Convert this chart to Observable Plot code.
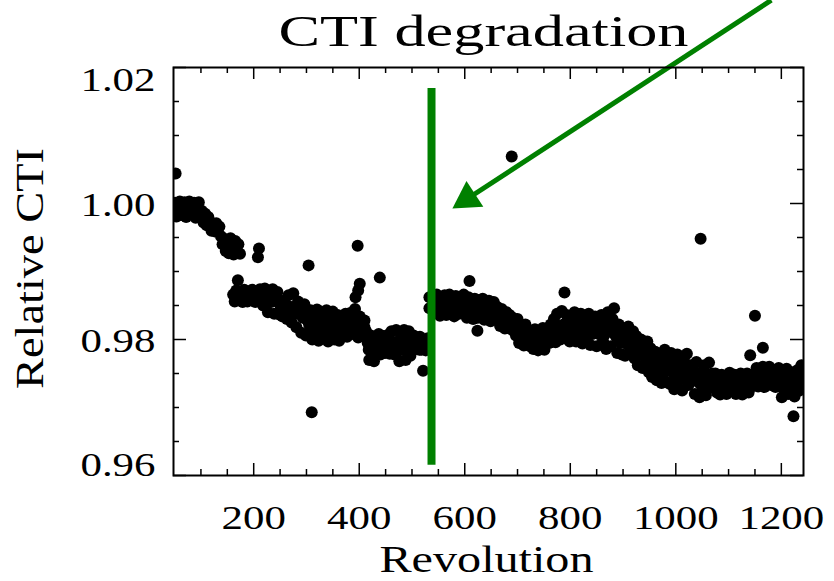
<!DOCTYPE html>
<html>
<head>
<meta charset="utf-8">
<script src="https://cdn.jsdelivr.net/npm/d3@7"></script>
<script src="https://cdn.jsdelivr.net/npm/@observablehq/plot@0.6"></script>
<style>
html, body { margin: 0; padding: 0; background: #fff; }
#chart svg { display: block; overflow: visible; background: #fff; }
</style>
</head>
<body>
<div id="chart"></div>
<script>
// ---- Data: [revolution, relative CTI] ----
const bandPoints = [
  [48,0.9990],[51,1.0001],[54,0.9981],[57,0.9995],[60,1.0003],[63,0.9983],[66,0.9992],[69,1.0002],[72,0.9980],[75,0.9996],[78,1.0003],[81,0.9985],[84,0.9993],[87,1.0001],[90,0.9979],[93,0.9997],[96,1.0002],[99,0.9984],
  [102,0.9989],[105,0.9972],[108,0.9985],[111,0.9968],[114,0.9980],
  [117,0.9973],[120,0.9960],[123,0.9968],[126,0.9959],[129,0.9971],[132,0.9962],[135,0.9966],
  [138,0.9952],[141,0.9940],[144,0.9948],[147,0.9930],[150,0.9944],[153,0.9927],[156,0.9949],[159,0.9936],[162,0.9925],[165,0.9945],[168,0.9930],[171,0.9940],[174,0.9926],
  [161,0.9866],[164,0.9856],[167,0.9872],[173,0.9858],[176,0.9868],[179,0.9855],[182,0.9873],[185,0.9861],[188,0.9856],[191,0.9870],[194,0.9859],[197,0.9873],[200,0.9864],[203,0.9855],[206,0.9871],[209,0.9860],[212,0.9874],
  [215,0.9868],[218,0.9850],[221,0.9875],[224,0.9858],[227,0.9840],[230,0.9870],[233,0.9855],[236,0.9874],[239,0.9838],[242,0.9864],[245,0.9870],[248,0.9837],
  [251,0.9850],[254,0.9834],[257,0.9857],[260,0.9842],[263,0.9830],[266,0.9865],[269,0.9848],[272,0.9825],[275,0.9868],[278,0.9838],[281,0.9818],[284,0.9856],[287,0.9845],[290,0.9810],[293,0.9832],[296,0.9852],[299,0.9806],[302,0.9840],
  [305,0.9822],[308,0.9843],[311,0.9800],[314,0.9833],[317,0.9812],[320,0.9844],[323,0.9798],[326,0.9827],[329,0.9840],[332,0.9805],[335,0.9818],[338,0.9843],[341,0.9797],[344,0.9830],[347,0.9814],[350,0.9841],[353,0.9800],[356,0.9825],[359,0.9836],[362,0.9798],[365,0.9819],[368,0.9830],
  [371,0.9812],[374,0.9838],[377,0.9804],[380,0.9826],[383,0.9839],[386,0.9808],[389,0.9830],[392,0.9845],[395,0.9815],[398,0.9803],[401,0.9834],[404,0.9820],[407,0.9806],[410,0.9828],[413,0.9812],
  [416,0.9795],[419,0.9770],[422,0.9806],[425,0.9783],[428,0.9768],[431,0.9800],[434,0.9788],[437,0.9808],[440,0.9778],[443,0.9795],[446,0.9805],[449,0.9780],[452,0.9792],[455,0.9807],[458,0.9779],[461,0.9812],[464,0.9790],[467,0.9778],[470,0.9814],[473,0.9797],[476,0.9768],[479,0.9808],[482,0.9785],[485,0.9814],[488,0.9770],[491,0.9800],[494,0.9812],[497,0.9776],[500,0.9795],[503,0.9806],[506,0.9786],[509,0.9800],[512,0.9790],[515,0.9804],[518,0.9785],[524,0.9798],[527,0.9790],[530,0.9802],[533,0.9862],[533,0.9846],
  [541,0.9858],[544,0.9840],[547,0.9866],[550,0.9848],[553,0.9835],[556,0.9862],[559,0.9845],[562,0.9865],[565,0.9836],[568,0.9855],[571,0.9866],[574,0.9842],[577,0.9858],[580,0.9834],[583,0.9864],[586,0.9848],[589,0.9838],[592,0.9860],[595,0.9845],[598,0.9866],
  [601,0.9850],[604,0.9832],[607,0.9862],[610,0.9840],[613,0.9855],[616,0.9830],[619,0.9860],[622,0.9845],[625,0.9832],[628,0.9858],
  [631,0.9838],[634,0.9860],[637,0.9829],[640,0.9850],[643,0.9835],[646,0.9857],[649,0.9827],[652,0.9845],[655,0.9855],[658,0.9830],[661,0.9848],
  [664,0.9838],[667,0.9820],[670,0.9845],[673,0.9828],[676,0.9816],[679,0.9840],[682,0.9825],[685,0.9836],[688,0.9815],[691,0.9832],
  [694,0.9825],[697,0.9806],[700,0.9830],[703,0.9795],[706,0.9818],[709,0.9808],[712,0.9791],[715,0.9822],[718,0.9800],[721,0.9814],[724,0.9790],
  [727,0.9808],[730,0.9786],[733,0.9815],[736,0.9797],[739,0.9784],[742,0.9810],[745,0.9792],[748,0.9817],[751,0.9785],[754,0.9803],[757,0.9812],
  [760,0.9795],[763,0.9822],[766,0.9803],[769,0.9830],[772,0.9796],[775,0.9838],[778,0.9812],[781,0.9800],[784,0.9842],[787,0.9822],[790,0.9802],
  [793,0.9836],[796,0.9810],[799,0.9797],[802,0.9830],[805,0.9815],[808,0.9840],[811,0.9797],[814,0.9824],[817,0.9810],[820,0.9838],[823,0.9794],[826,0.9818],[829,0.9830],[832,0.9805],[835,0.9838],[838,0.9792],[841,0.9825],[844,0.9812],[847,0.9834],[850,0.9790],[853,0.9820],[856,0.9829],
  [859,0.9836],[862,0.9798],[865,0.9825],[868,0.9786],[871,0.9840],[874,0.9812],[877,0.9790],[880,0.9830],[886,0.9805],[889,0.9780],[892,0.9822],[895,0.9808],
  [898,0.9778],[901,0.9815],[904,0.9776],[907,0.9805],[910,0.9819],[913,0.9782],[916,0.9800],[919,0.9812],
  [922,0.9772],[925,0.9805],[928,0.9762],[931,0.9792],[934,0.9800],[937,0.9758],[940,0.9785],[943,0.9766],[946,0.9797],
  [949,0.9752],[952,0.9787],[955,0.9745],[958,0.9772],[961,0.9782],[964,0.9740],[967,0.9765],[970,0.9778],[973,0.9736],[976,0.9750],[979,0.9785],[982,0.9738],
  [985,0.9770],[988,0.9735],[991,0.9780],[994,0.9752],[997,0.9727],[1000,0.9765],[1003,0.9778],[1006,0.9740],[1009,0.9760],[1012,0.9725],[1015,0.9772],[1018,0.9748],[1021,0.9779],[1024,0.9733],[1027,0.9762],[1030,0.9745],
  [1033,0.9755],[1036,0.9720],[1039,0.9767],[1042,0.9738],[1045,0.9715],[1048,0.9752],[1051,0.9728],[1054,0.9762],[1057,0.9718],[1060,0.9745],[1063,0.9766],[1066,0.9730],[1069,0.9750],
  [1072,0.9735],[1075,0.9750],[1078,0.9722],[1081,0.9742],[1084,0.9719],[1087,0.9748],[1090,0.9730],[1093,0.9745],[1096,0.9720],[1099,0.9740],[1102,0.9751],[1105,0.9725],[1108,0.9738],[1111,0.9748],[1114,0.9720],[1117,0.9745],[1120,0.9732],[1123,0.9750],[1126,0.9719],[1129,0.9742],[1132,0.9728],[1135,0.9750],[1138,0.9722],[1144,0.9738],[1147,0.9748],
  [1150,0.9742],[1153,0.9758],[1156,0.9731],[1159,0.9750],[1162,0.9738],[1165,0.9760],[1168,0.9730],[1171,0.9752],[1174,0.9742],[1177,0.9760],[1180,0.9733],[1183,0.9748],[1186,0.9755],[1189,0.9730],[1192,0.9745],[1195,0.9758],
  [1198,0.9738],[1201,0.9715],[1204,0.9750],[1207,0.9726],[1210,0.9757],[1213,0.9720],[1216,0.9742],[1219,0.9732],[1222,0.9752],[1225,0.9716],[1228,0.9740],[1231,0.9755],[1234,0.9725],[1237,0.9748],[1240,0.9735]
];
// extra measurements in the middle of the dense band
const bandMidPoints = [
  [302,0.9828],[308,0.9812],[314,0.9822],[320,0.9815],[326,0.9810],[332,0.9828],[338,0.9820],[344,0.9808],[350,0.9825],[356,0.9812],[362,0.9826],[368,0.9815],[374,0.9822],[380,0.9812],[386,0.9825],[392,0.9818],[398,0.9828],[404,0.9810],[410,0.9818],
  [418,0.9785],[424,0.9795],[430,0.9782],[436,0.9797],[442,0.9787],[448,0.9795],[454,0.9790],[460,0.9798],[466,0.9788],[472,0.9782],[478,0.9795],[484,0.9798],[490,0.9786],[496,0.9792],[502,0.9785],[508,0.9793],[514,0.9785],[520,0.9795],[526,0.9784],
  [542,0.9848],[548,0.9855],[554,0.9846],[560,0.9855],[566,0.9847],[572,0.9852],[578,0.9846],[584,0.9854],[590,0.9850],[596,0.9855],
  [602,0.9842],[608,0.9850],[614,0.9843],[620,0.9850],[626,0.9845],[632,0.9848],[638,0.9842],[644,0.9847],[650,0.9838],[656,0.9845],[662,0.9840],
  [668,0.9832],[674,0.9836],[680,0.9828],[686,0.9826],[692,0.9820],
  [698,0.9815],[704,0.9808],[710,0.9815],[716,0.9805],[722,0.9802],[728,0.9797],[734,0.9803],[740,0.9797],[746,0.9803],[752,0.9796],[758,0.9801],
  [764,0.9812],[770,0.9815],[776,0.9818],[782,0.9820],[788,0.9810],[794,0.9820],[800,0.9812],[806,0.9825],[812,0.9810],[818,0.9820],[824,0.9812],[830,0.9820],[836,0.9815],[842,0.9808],[848,0.9818],[854,0.9808],
  [860,0.9815],[866,0.9808],[872,0.9820],[878,0.9812],[884,0.9820],[890,0.9803],[896,0.9795],
  [902,0.9800],[908,0.9793],[914,0.9800],[920,0.9790],[926,0.9785],[932,0.9778],[938,0.9782],[944,0.9780],
  [950,0.9770],[956,0.9760],[962,0.9762],[968,0.9752],[974,0.9765],[980,0.9760],
  [986,0.9755],[992,0.9762],[998,0.9748],[1004,0.9758],[1010,0.9745],[1016,0.9755],[1022,0.9758],[1028,0.9750],
  [1034,0.9740],[1040,0.9748],[1046,0.9735],[1052,0.9745],[1058,0.9735],[1064,0.9748],[1070,0.9738],
  [1076,0.9735],[1082,0.9730],[1088,0.9738],[1094,0.9732],[1100,0.9728],[1106,0.9738],[1112,0.9733],[1118,0.9737],[1124,0.9730],[1130,0.9735],[1136,0.9738],[1142,0.9730],[1148,0.9740],
  [1154,0.9745],[1160,0.9742],[1166,0.9748],[1172,0.9740],[1178,0.9747],[1184,0.9740],[1190,0.9748],[1196,0.9742],
  [1202,0.9730],[1208,0.9742],[1214,0.9735],[1220,0.9742],[1226,0.9730],[1232,0.9738],[1238,0.9732]
];
const outlierPoints = [
  [52,1.0044],[170,0.9887],[208,0.9921],[210,0.9934],[304,0.9909],[310,0.9693],[393,0.9862],[397,0.9938],[398,0.9872],[401,0.9882],
  [439,0.9891],[521,0.9754],[609,0.9886],[624,0.9813],[689,1.0069],[789,0.9869],[883,0.9846],[1047,0.9948],[1141,0.9777],
  [1150,0.9835],[1165,0.9788],[1223,0.9687],[1238,0.9762]
];

// ---- Annotation (green marker line and arrow) ----
const markerRevolution = [537];
const markerRange = [0.9615, 1.0169];
const arrowStart = [1181, 1.0299];
const arrowHead = [605, 1.0007];
const arrowHeadAngle = 237;

// ---- Axes ----
const xDomain = [48, 1242];
const yDomain = [0.96, 1.02];
const xTicks = [200, 400, 600, 800, 1000, 1200];
const xTickLabels = ["200", "400", "600", "800", "1000", "1200"];
const xMinorTicks = [100, 150, 250, 300, 350, 450, 500, 550, 650, 700, 750, 850, 900, 950, 1050, 1100, 1150];
const yTicks = [0.96, 0.98, 1.00, 1.02];
const yTickLabels = ["0.96", "0.98", "1.00", "1.02"];
const yMinorTicks = [0.965, 0.97, 0.975, 0.985, 0.99, 0.995, 1.005, 1.01, 1.015];
const titleText = "CTI degradation";
const xLabel = "Revolution";
const yLabel = "Relative CTI";

// ---- Layout ----
const W = 834, H = 581;
const mL = 173, mR = 31, mT = 67, mB = 106;
const fw = W - mL - mR, fh = H - mT - mB;
const green = "#008000";
const font = "Liberation Serif";

const points = bandPoints.concat(bandMidPoints, outlierPoints);
const yTickRows = yTicks.map((v, i) => ({v, label: yTickLabels[i]}));
const xTickRows = xTicks.map((v, i) => ({v, label: xTickLabels[i]}));

const chart = Plot.plot({
  width: W, height: H,
  marginLeft: mL, marginRight: mR, marginTop: mT, marginBottom: mB,
  x: {domain: xDomain, axis: null},
  y: {domain: yDomain, axis: null},
  style: {background: "#fff"},
  marks: [
    Plot.dot(points, {x: d => d[0], y: d => d[1], r: 6, fill: "black", stroke: "none", clip: true}),
    Plot.ruleX(markerRevolution, {x: d => d, y1: markerRange[0], y2: markerRange[1], stroke: green, strokeWidth: 8}),
    Plot.link([{s: arrowStart, e: arrowHead}], {x1: d => d.s[0], y1: d => d.s[1], x2: d => d.e[0], y2: d => d.e[1], stroke: green, strokeWidth: 5}),
    Plot.dot([arrowHead], {x: d => d[0], y: d => d[1], symbol: "triangle", r: 11.5, fill: green, stroke: "none", rotate: arrowHeadAngle}),
    Plot.frame({stroke: "black", strokeWidth: 2}),
    Plot.ruleX(xTicks, {x: d => d, insetTop: fh - 12, stroke: "black", strokeWidth: 1.5}),
    Plot.ruleX(xTicks, {x: d => d, insetBottom: fh - 12, stroke: "black", strokeWidth: 1.5}),
    Plot.ruleX(xMinorTicks, {x: d => d, insetTop: fh - 6, stroke: "black", strokeWidth: 1.5}),
    Plot.ruleX(xMinorTicks, {x: d => d, insetBottom: fh - 6, stroke: "black", strokeWidth: 1.5}),
    Plot.ruleY(yTicks, {y: d => d, insetRight: fw - 13, stroke: "black", strokeWidth: 1.5}),
    Plot.ruleY(yTicks, {y: d => d, insetLeft: fw - 13, stroke: "black", strokeWidth: 1.5}),
    Plot.ruleY(yMinorTicks, {y: d => d, insetRight: fw - 6, stroke: "black", strokeWidth: 1.5}),
    Plot.ruleY(yMinorTicks, {y: d => d, insetLeft: fw - 6, stroke: "black", strokeWidth: 1.5}),
    Plot.text(yTickRows.filter(d => d.v > 0.96 && d.v < 1.02), {y: d => d.v, text: d => d.label, frameAnchor: "left", textAnchor: "end", lineAnchor: "middle", dx: -18, dy: 2, fontFamily: font, fontSize: 33, fill: "black"}),
    Plot.text(yTickRows.filter(d => d.v >= 1.02), {y: d => d.v, text: d => d.label, frameAnchor: "left", textAnchor: "end", lineAnchor: "top", dx: -18, dy: 0, fontFamily: font, fontSize: 33, fill: "black"}),
    Plot.text(yTickRows.filter(d => d.v <= 0.96), {y: d => d.v, text: d => d.label, frameAnchor: "left", textAnchor: "end", lineAnchor: "bottom", dx: -18, dy: 0, fontFamily: font, fontSize: 33, fill: "black"}),
    Plot.text(xTickRows, {x: d => d.v, text: d => d.label, frameAnchor: "bottom", textAnchor: "middle", lineAnchor: "bottom", dy: 53, fontFamily: font, fontSize: 33, fill: "black"}),
    Plot.text([xLabel], {text: d => d, frameAnchor: "bottom", textAnchor: "middle", lineAnchor: "bottom", dx: -2, dy: 96, fontFamily: font, fontSize: 38, fill: "black"}),
    Plot.text([yLabel], {text: d => d, frameAnchor: "left", textAnchor: "middle", lineAnchor: "bottom", rotate: -90, dx: -131, dy: -3, fontFamily: font, fontSize: 39, fill: "black"}),
    Plot.text([titleText], {text: d => d, frameAnchor: "top", textAnchor: "middle", lineAnchor: "bottom", dx: -5, dy: -22, fontFamily: font, fontSize: 45, fill: "black"})
  ]
});
document.getElementById("chart").append(chart);

// widen glyphs to mimic the wide vector font of the original
const targetWidths = {[titleText]: 410, [xLabel]: 214, [yLabel]: 241};
chart.querySelectorAll("text").forEach(t => {
  const s = t.textContent;
  const natural = t.getComputedTextLength();
  const target = targetWidths[s] !== undefined ? targetWidths[s] : natural * 1.3;
  t.setAttribute("textLength", target);
  t.setAttribute("lengthAdjust", "spacingAndGlyphs");
});
</script>
</body>
</html>
